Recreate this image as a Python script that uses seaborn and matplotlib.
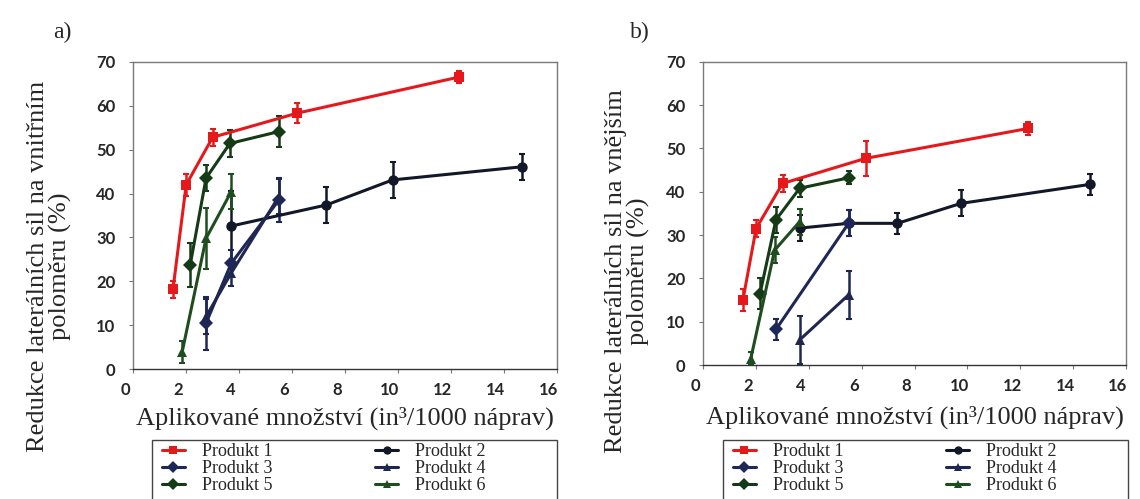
import numpy as np
import pandas as pd
import matplotlib.pyplot as plt
import matplotlib.transforms as mtransforms
from matplotlib.lines import Line2D
from matplotlib.patches import Rectangle
import seaborn as sns

# ---- data ----
products = ['Produkt 1', 'Produkt 2', 'Produkt 3', 'Produkt 4', 'Produkt 5', 'Produkt 6']

# panel a) vnitrni polomer
xa_p1 = [1.5, 2.0, 3.0, 6.2, 12.3]
ya_p1 = [18.2, 42.0, 52.8, 58.3, 66.5]
ea_p1 = [2.0, 2.5, 2.0, 2.2, 1.3]
xa_p2 = [3.7, 7.3, 9.8, 14.7]
ya_p2 = [32.6, 37.4, 43.1, 46.1]
ea_p2 = [8.0, 4.0, 4.0, 3.0]
xa_p3 = [2.75, 3.7, 5.5]
ya_p3 = [10.5, 24.1, 38.5]
ea_p3 = [6.0, 3.0, 5.0]
xa_p4 = [2.75, 3.7, 5.5]
ya_p4 = [12.0, 21.9, 39.3]
ea_p4 = [4.0, 3.0, 4.0]
xa_p5 = [2.15, 2.75, 3.65, 5.5]
ya_p5 = [23.7, 43.5, 51.4, 54.1]
ea_p5 = [5.0, 3.0, 3.0, 3.5]
xa_p6 = [1.85, 2.75, 3.7]
ya_p6 = [4.0, 29.8, 40.4]
ea_p6 = [2.5, 7.0, 4.0]

# panel b) vnejsi polomer
xb_p1 = [1.5, 2.0, 3.0, 6.15, 12.3]
yb_p1 = [15.0, 31.5, 41.9, 47.7, 54.6]
eb_p1 = [2.5, 2.0, 2.0, 4.0, 1.5]
xb_p2 = [3.65, 5.5, 7.35, 9.75, 14.65]
yb_p2 = [31.6, 32.7, 32.7, 37.3, 41.7]
eb_p2 = [3.0, 3.0, 2.5, 3.0, 2.5]
xb_p3 = [2.75, 5.5]
yb_p3 = [8.2, 32.7]
eb_p3 = [2.5, 3.0]
xb_p4 = [3.65, 5.5]
yb_p4 = [5.8, 16.2]
eb_p4 = [5.5, 5.5]
xb_p5 = [2.15, 2.75, 3.65, 5.5]
yb_p5 = [16.5, 33.5, 40.8, 43.2]
eb_p5 = [3.5, 3.0, 2.0, 1.5]
xb_p6 = [1.8, 2.7, 3.65]
yb_p6 = [1.5, 26.5, 33.1]
eb_p6 = [1.5, 3.0, 3.0]

x_ticks = [0, 2, 4, 6, 8, 10, 12, 14, 16]
y_ticks = [0, 10, 20, 30, 40, 50, 60, 70]

colors = {'Produkt 1': '#e5191c', 'Produkt 2': '#131829', 'Produkt 3': '#1d2858',
          'Produkt 4': '#1f2750', 'Produkt 5': '#153a16', 'Produkt 6': '#1f4d1f'}
markers = {'Produkt 1': 's', 'Produkt 2': 'o', 'Produkt 3': 'D',
           'Produkt 4': '^', 'Produkt 5': 'D', 'Produkt 6': '^'}

panel_a = [(xa_p1, ya_p1, ea_p1), (xa_p2, ya_p2, ea_p2), (xa_p3, ya_p3, ea_p3),
           (xa_p4, ya_p4, ea_p4), (xa_p5, ya_p5, ea_p5), (xa_p6, ya_p6, ea_p6)]
panel_b = [(xb_p1, yb_p1, eb_p1), (xb_p2, yb_p2, eb_p2), (xb_p3, yb_p3, eb_p3),
           (xb_p4, yb_p4, eb_p4), (xb_p5, yb_p5, eb_p5), (xb_p6, yb_p6, eb_p6)]


def to_long(panel):
    rows = []
    for name, (xs, ys, es) in zip(products, panel):
        for i, (x, y, e) in enumerate(zip(xs, ys, es)):
            rows.append({'x': x, 'y': y, 'err': e, 'produkt': name, 'order': i})
    return pd.DataFrame(rows)


sns.set_theme(style='white')
plt.rcParams['font.family'] = ['Liberation Serif', 'DejaVu Serif']

W, H = 1140, 499
fig = plt.figure(figsize=(11.4, 4.99), dpi=100)
ax_a = fig.add_axes([0.1169, 0.2599, 0.3714, 0.6164])
ax_b = fig.add_axes([0.6169, 0.2685, 0.3708, 0.6078])

serif = 'Liberation Serif'
ylabels = ['Redukce laterálních sil na vnitřním\npoloměru (%)',
           'Redukce laterálních sil na vnějším\npoloměru (%)']
ylab_pos = [(-0.145, 0.335), (-0.126, 0.31)]
xlab_pos = [-0.122, -0.135]
legend_box = [(152, 440), (723, 440)]   # left, top in pixels

for ax, panel, ylab, ypos, xpos, (bx, by) in zip([ax_a, ax_b], [panel_a, panel_b],
                                               ylabels, ylab_pos, xlab_pos, legend_box):
    df = to_long(panel)
    sns.lineplot(data=df, x='x', y='y', hue='produkt', style='produkt',
                 units='produkt', estimator=None, sort=False, palette=colors,
                 markers=markers, dashes=False, lw=2.2, markersize=7.5,
                 markeredgewidth=0, legend=False, ax=ax)
    for name in products:
        d = df[df['produkt'] == name]
        ax.errorbar(d['x'], d['y'], yerr=d['err'], fmt='none', ecolor=colors[name],
                    elinewidth=1.8, capsize=2.2, capthick=1.5, zorder=1)

    ax.set_xlim(0, 16)
    ax.set_ylim(0, 70)
    ax.set_xticks(x_ticks)
    ax.set_yticks(y_ticks)
    ax.set_xticklabels([str(t) for t in x_ticks], fontfamily='Lato',
                       fontweight='bold', fontsize=12)
    ax.set_yticklabels([str(t) for t in y_ticks], fontfamily='Lato',
                       fontweight='bold', fontsize=12)
    ax.tick_params(axis='both', direction='out', length=3, width=0.8,
                   color='#777777', bottom=True, left=True)
    ax.tick_params(axis='x', pad=6)
    ax.tick_params(axis='y', pad=10)
    # the scanned tick labels sit a bit left of their ticks
    shift = mtransforms.ScaledTranslation(-8 / 100, 0, fig.dpi_scale_trans)
    for lbl in ax.get_xticklabels():
        lbl.set_transform(lbl.get_transform() + shift)
    for sp in ax.spines.values():
        sp.set_color('#7a7a7a')
        sp.set_linewidth(1.0)
    ax.spines['bottom'].set_color('#333333')

    ax.set_xlabel('Aplikované množství (in³/1000 náprav)', fontfamily=serif,
                  fontsize=19)
    ax.xaxis.set_label_coords(0.5, xpos)
    ax.set_ylabel(ylab, fontfamily=serif, fontsize=19, linespacing=1.0)
    ax.yaxis.set_label_coords(*ypos)

    handles = []
    for name in products:
        handles.append(Line2D([], [], color=colors[name], marker=markers[name],
                              lw=2.2, markersize=6, markeredgewidth=0))
    order = [0, 2, 4, 1, 3, 5]
    fig.legend([handles[i] for i in order], [products[i] for i in order],
               ncol=2, loc='upper left',
               bbox_to_anchor=((bx + 10) / W, 1 - (by + 3) / H),
               bbox_transform=fig.transFigure, frameon=False,
               prop={'family': serif, 'size': 13}, handlelength=1.25,
               handletextpad=0.95, labelspacing=0.0, borderpad=0,
               borderaxespad=0, columnspacing=5.7)
    # legend frame (runs off the bottom of the picture)
    fig.add_artist(Rectangle((bx / W, 1 - (by + 75) / H), 405 / W, 75 / H,
                             transform=fig.transFigure, fill=False,
                             edgecolor='#444444', lw=1.0))

fig.text(62 / W, 1 - 32 / H, 'a)', fontfamily=serif, fontsize=17,
         ha='center', va='center')
fig.text(640 / W, 1 - 32 / H, 'b)', fontfamily=serif, fontsize=17,
         ha='center', va='center')

fig.savefig('out.png', dpi=100)
